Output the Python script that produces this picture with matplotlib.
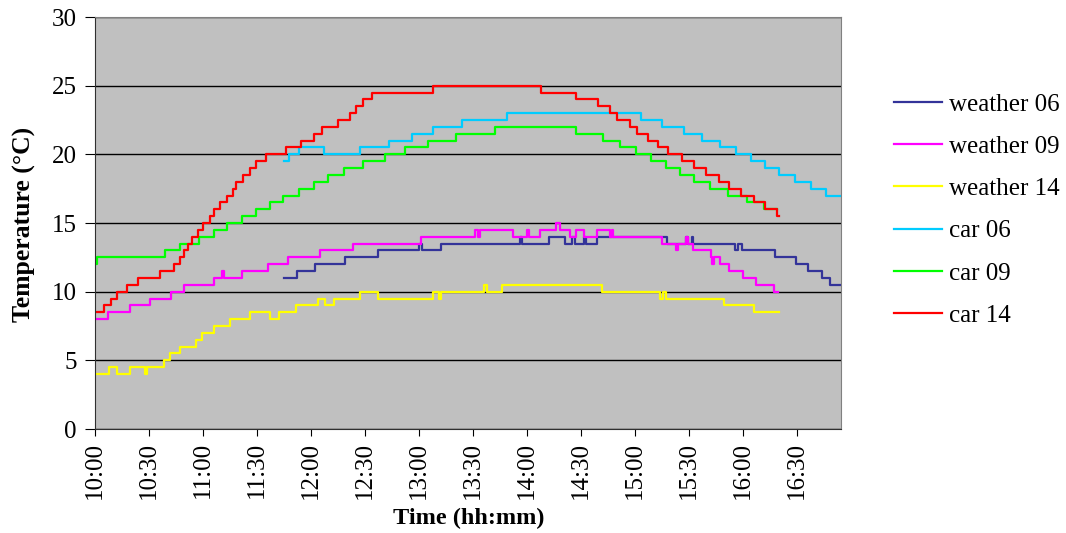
"""
Temperatura medida (estacao x carro) ao longo do dia, 10:00 ate ~16:55.
Gera out.png.
"""

import matplotlib
matplotlib.use("Agg")
import matplotlib.pyplot as plt

# tempos em minutos desde 10:00 (inicio de cada degrau) e valor do degrau;
# o ultimo ponto so marca o fim da serie
W06_T = [105, 112, 122.5, 139, 157, 180, 181.5, 192, 236, 237.5, 252.5, 261, 265,
         266.5, 271.5, 273, 279, 318, 328.5, 329.5, 331.5, 332.5, 355.5, 357, 359.5,
         378, 389.5, 396, 404, 408.5, 415]
W06_V = [11, 11.5, 12, 12.5, 13, 13.5, 13, 13.5, 14, 13.5, 14, 13.5, 14,
         13.5, 14, 13.5, 14, 13.5, 14, 13.5, 14, 13.5, 13, 13.5, 13,
         12.5, 12, 11.5, 11, 10.5, 10.5]

W09_T = [0, 7, 19.5, 30.5, 42.5, 49.5, 66, 70.5, 71.5, 81.5, 96, 107, 125, 143.5,
         181, 211, 213, 214, 232.5, 240, 241, 247, 256, 258.5, 264, 267, 271.5,
         279, 286, 287, 288, 315, 323, 324, 328.5, 329.5, 332.5, 342, 343, 344,
         347, 352, 360, 367, 377.5, 379.5]
W09_V = [8, 8.5, 9, 9.5, 10, 10.5, 11, 11.5, 11, 11.5, 12, 12.5, 13, 13.5,
         14, 14.5, 14, 14.5, 14, 14.5, 14, 14.5, 15, 14.5, 14, 14.5, 14,
         14.5, 14, 14.5, 14, 13.5, 13, 13.5, 14, 13.5, 13, 12.5, 12, 12.5,
         12, 11.5, 11, 10.5, 10, 10]

W14_T = [0, 8, 12.5, 19.5, 28, 29, 38.5, 41.5, 47.5, 56, 59.5, 66, 75, 86, 97,
         102, 111.5, 124, 128, 133, 147, 157, 188, 191, 192, 216, 218, 226,
         281.5, 314, 315.5, 317, 349.5, 366, 380]
W14_V = [4, 4.5, 4, 4.5, 4, 4.5, 5, 5.5, 6, 6.5, 7, 7.5, 8, 8.5, 8,
         8.5, 9, 9.5, 9, 9.5, 10, 9.5, 10, 9.5, 10, 10.5, 10, 10.5,
         10, 9.5, 10, 9.5, 9, 8.5, 8.5]

C06_T = [105, 108, 113.5, 127, 147, 163.5, 176, 188, 204, 229, 303.5, 315, 327.5,
         337.5, 347.5, 356, 364.5, 372.5, 380, 389, 398, 406, 415]
C06_V = [19.5, 20, 20.5, 20, 20.5, 21, 21.5, 22, 22.5, 23, 22.5, 22, 21.5,
         21, 20.5, 20, 19.5, 19, 18.5, 18, 17.5, 17, 17]

C09_T = [0, 1, 39, 47.5, 58, 66, 73.5, 81.5, 89.5, 97, 104.5, 113.5, 121.5, 129.5,
         138.5, 149, 161, 172, 185, 200.5, 222, 267.5, 282.5, 291.5, 300.5, 309,
         317.5, 325, 333, 341.5, 351.5, 362.5, 371.5, 379]
C09_V = [12, 12.5, 13, 13.5, 14, 14.5, 15, 15.5, 16, 16.5, 17, 17.5, 18, 18.5,
         19, 19.5, 20, 20.5, 21, 21.5, 22, 21.5, 21, 20.5, 20, 19.5,
         19, 18.5, 18, 17.5, 17, 16.5, 16, 16]

C14_T = [0, 5, 9, 12.5, 18, 24, 36, 44, 47, 49.5, 51.5, 54, 57, 60, 64, 66, 69.5,
         73.5, 76.5, 78.5, 82, 86, 89.5, 95, 106, 114.5, 121.5, 126, 135, 141.5,
         145, 149, 154, 188, 248, 267.5, 279.5, 286, 290, 297, 301, 307.5, 313,
         318.5, 326, 333, 339.5, 346.5, 352.5, 359, 366, 372, 379, 380]
C14_V = [8.5, 9, 9.5, 10, 10.5, 11, 11.5, 12, 12.5, 13, 13.5, 14, 14.5, 15, 15.5,
         16, 16.5, 17, 17.5, 18, 18.5, 19, 19.5, 20, 20.5, 21, 21.5, 22, 22.5,
         23, 23.5, 24, 24.5, 25, 24.5, 24, 23.5, 23, 22.5, 22, 21.5, 21, 20.5,
         20, 19.5, 19, 18.5, 18, 17.5, 17, 16.5, 16, 15.5, 15.5]

SERIES = [
    ("weather 06", W06_T, W06_V, "#333399"),
    ("weather 09", W09_T, W09_V, "#ff00ff"),
    ("weather 14", W14_T, W14_V, "#ffff00"),
    ("car 06", C06_T, C06_V, "#00ccff"),
    ("car 09", C09_T, C09_V, "#00ff00"),
    ("car 14", C14_T, C14_V, "#ff0000"),
]

TICK_MIN = list(range(0, 391, 30))
TICK_LBL = [f"{10 + m // 60}:{m % 60:02d}" for m in TICK_MIN]

plt.rcParams["font.family"] = ["Liberation Serif", "DejaVu Serif"]


def main() -> None:
    W, H = 1066, 533
    fig = plt.figure(figsize=(W / 100, H / 100), dpi=100)
    ax = fig.add_axes([95 / W, (H - 429) / H, (841 - 95) / W, (429 - 17) / H])
    ax.set_facecolor("#c0c0c0")

    for nome, t, v, cor in SERIES:
        ax.plot(t, v, drawstyle="steps-post", color=cor, lw=1.6, label=nome)

    ax.set_xlim(0, 414.5)
    ax.set_ylim(0, 30)
    ax.set_yticks(range(0, 31, 5))
    ax.set_xticks(TICK_MIN)
    ax.set_xticklabels(TICK_LBL, rotation=90, va="top")
    ax.grid(axis="y", color="black", lw=1)
    ax.set_axisbelow(True)

    ax.tick_params(axis="y", length=7, pad=6, labelsize=18, direction="out")
    ax.tick_params(axis="x", length=5, pad=4.5, labelsize=18, direction="out")
    for lado in ("top", "right"):
        ax.spines[lado].set_color("#808080")
    for lado in ("left", "bottom"):
        ax.spines[lado].set_color("#303030")

    # rotulos dos eixos posicionados pela linha de base (em pixels da figura)
    fig.text(469 / W, (H - 524) / H, "Time (hh:mm)", fontsize=17.5,
             fontweight="bold", ha="center", va="baseline")
    fig.text(30.5 / W, (H - 224) / H, "Temperature (°C)", fontsize=18.5,
             fontweight="bold", ha="center", va="baseline", rotation=90,
             rotation_mode="anchor")

    fig.legend(loc="center left", bbox_to_anchor=(884 / W, 1 - 210 / H),
               frameon=False, fontsize=18, handlelength=1.9, handletextpad=0.3,
               labelspacing=0.79, borderaxespad=0)

    fig.savefig("out.png", dpi=100)
    plt.close(fig)


if __name__ == "__main__":
    main()
